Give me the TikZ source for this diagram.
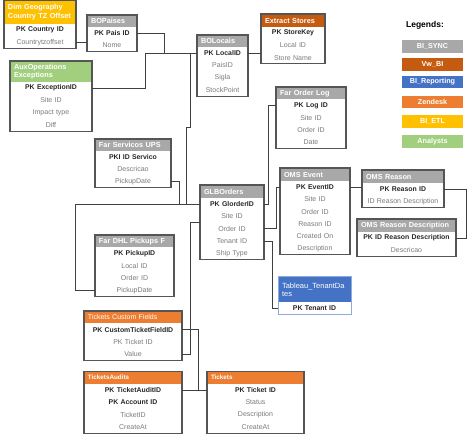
\documentclass[tikz,border=0pt]{standalone}
\usepackage{fontspec}
\setmainfont{Liberation Sans}
\usepackage{tikz}
\usetikzlibrary{positioning}

\definecolor{hdgrey}{HTML}{A8A8A8}
\definecolor{vwbi}{HTML}{C55A11}
\definecolor{bireport}{HTML}{4472C4}
\definecolor{zendesk}{HTML}{ED7D31}
\definecolor{etl}{HTML}{FFC000}
\definecolor{analysts}{HTML}{A2CF7E}
\definecolor{fldgrey}{HTML}{7A7A7A}
\definecolor{pkdark}{HTML}{262626}
\definecolor{boxline}{HTML}{555555}

\begin{document}
\begin{tikzpicture}[x=1pt, y=-1pt,
    head/.style 2 args={anchor=north west, text width=#1-8pt, inner xsep=4pt, inner ysep=1pt,
        minimum height=12.5pt, outer sep=0pt, fill=#2, text=white, align=left,
        font=\fontsize{7.3}{8.6}\selectfont\bfseries},
    fld/.style={text width=#1, inner xsep=0pt, inner ysep=0pt, minimum height=12.3pt,
        outer sep=0pt, align=center, text=fldgrey, font=\fontsize{7}{8}\selectfont},
    pk/.style={fld=#1, text=pkdark, font=\fontsize{6.9}{8}\selectfont\bfseries},
    tbl/.style={draw=boxline, line width=1.1pt},
    link/.style={draw=black!75, line width=0.75pt},
    legbox/.style={minimum width=61pt, minimum height=12.5pt, inner sep=0pt, fill=#1,
        text=white, font=\fontsize{7.2}{8}\selectfont\bfseries}
    ]
    \useasboundingbox (0,0) rectangle (467,435);

    % Dim Geography
    \node[head={72pt}{etl}, minimum height=24pt] (dim) at (4,0) {Dim Geography\\Country TZ Offset};
    \node[pk=72pt, below=0pt of dim] (dim-1) {PK Country ID};
    \node[fld=72pt, below=0pt of dim-1] (dim-2) {Countrytzoffset};
    \draw[tbl] (dim.north west) rectangle (dim-2.south east);

    % BOPaises
    \node[head={50pt}{hdgrey}, minimum height=12pt] (pais) at (87,15) {BOPaises};
    \node[pk=50pt, below=0pt of pais] (pais-1) {PK Pais ID};
    \node[fld=50pt, below=0pt of pais-1] (pais-2) {Nome};
    \draw[tbl] (pais.north west) rectangle (pais-2.south east);

    % AuxOperations Exceptions
    \node[head={82pt}{analysts}, minimum height=21pt] (aux) at (10,61) {AuxOperations\\Exceptions};
    \node[pk=82pt, below=0pt of aux] (aux-1) {PK ExceptionID};
    \node[fld=82pt, below=0pt of aux-1] (aux-2) {Site ID};
    \node[fld=82pt, below=0pt of aux-2] (aux-3) {Impact type};
    \node[fld=82pt, below=0pt of aux-3] (aux-4) {Diff};
    \draw[tbl] (aux.north west) rectangle (aux-4.south east);

    % BOLocais
    \node[head={51pt}{hdgrey}, minimum height=12pt] (locais) at (197,35) {BOLocais};
    \node[pk=51pt, below=0pt of locais] (locais-1) {PK LocalID};
    \node[fld=51pt, below=0pt of locais-1] (locais-2) {PaisID};
    \node[fld=51pt, below=0pt of locais-2] (locais-3) {Sigla};
    \node[fld=51pt, below=0pt of locais-3] (locais-4) {StockPoint};
    \draw[tbl] (locais.north west) rectangle (locais-4.south east);

    % Extract Stores
    \node[head={64pt}{vwbi}, minimum height=13pt] (stores) at (261,14) {Extract Stores};
    \node[pk=64pt, below=0pt of stores] (stores-1) {PK StoreKey};
    \node[fld=64pt, below=0pt of stores-1] (stores-2) {Local ID};
    \node[fld=64pt, below=0pt of stores-2] (stores-3) {Store Name};
    \draw[tbl] (stores.north west) rectangle (stores-3.south east);

    % Far Order Log
    \node[head={70pt}{hdgrey}] (orderlog) at (276,87) {Far Order Log};
    \node[pk=70pt, below=0pt of orderlog] (orderlog-1) {PK Log ID};
    \node[fld=70pt, below=0pt of orderlog-1] (orderlog-2) {Site ID};
    \node[fld=70pt, below=0pt of orderlog-2] (orderlog-3) {Order ID};
    \node[fld=70pt, below=0pt of orderlog-3] (orderlog-4) {Date};
    \draw[tbl] (orderlog.north west) rectangle (orderlog-4.south east);

    % Far Servicos UPS
    \node[head={76pt}{hdgrey}, minimum height=12pt] (ups) at (95,139) {Far Servicos UPS};
    \node[pk=76pt, below=0pt of ups] (ups-1) {PKI ID Servico};
    \node[fld=76pt, below=0pt of ups-1] (ups-2) {Descricao};
    \node[fld=76pt, below=0pt of ups-2] (ups-3) {PickupDate};
    \draw[tbl] (ups.north west) rectangle (ups-3.south east);

    % GLBOrders
    \node[head={64pt}{hdgrey}, minimum height=13pt] (glb) at (200,185) {GLBOrders};
    \node[pk=64pt, below=0pt of glb] (glb-1) {PK GlorderID};
    \node[fld=64pt, below=0pt of glb-1] (glb-2) {Site ID};
    \node[fld=64pt, below=0pt of glb-2] (glb-3) {Order ID};
    \node[fld=64pt, below=0pt of glb-3] (glb-4) {Tenant ID};
    \node[fld=64pt, below=0pt of glb-4] (glb-5) {Ship Type};
    \draw[tbl] (glb.north west) rectangle (glb-5.south east);

    % OMS Event
    \node[head={70pt}{hdgrey}, minimum height=13pt] (omsev) at (280,168) {OMS Event};
    \node[pk=70pt, below=0pt of omsev] (omsev-1) {PK EventID};
    \node[fld=70pt, below=0pt of omsev-1] (omsev-2) {Site ID};
    \node[fld=70pt, below=0pt of omsev-2] (omsev-3) {Order ID};
    \node[fld=70pt, below=0pt of omsev-3] (omsev-4) {Reason ID};
    \node[fld=70pt, below=0pt of omsev-4] (omsev-5) {Created On};
    \node[fld=70pt, below=0pt of omsev-5] (omsev-6) {Description};
    \draw[tbl] (omsev.north west) rectangle (omsev-6.south east);

    % OMS Reason
    \node[head={82pt}{hdgrey}, minimum height=13pt] (omsreason) at (362,170) {OMS Reason};
    \node[pk=82pt, below=0pt of omsreason] (omsreason-1) {PK Reason ID};
    \node[fld=82pt, below=0pt of omsreason-1] (omsreason-2) {ID Reason Description};
    \draw[tbl] (omsreason.north west) rectangle (omsreason-2.south east);

    % OMS Reason Description
    \node[head={99pt}{hdgrey}, minimum height=13pt] (omsrd) at (357,219) {OMS Reason Description};
    \node[pk=99pt, below=0pt of omsrd] (omsrd-1) {PK ID Reason Description};
    \node[fld=99pt, below=0pt of omsrd-1] (omsrd-2) {Descricao};
    \draw[tbl] (omsrd.north west) rectangle (omsrd-2.south east);

    % Tableau
    \node[head={73pt}{bireport}, minimum height=25pt, font=\fontsize{7.5}{8}\selectfont] (tableau) at (278,277) {Tableau\_TenantDa\\tes};
    \node[pk=73pt, below=0pt of tableau] (tableau-1) {PK Tenant ID};
    \draw[draw=bireport!60, line width=1pt] (tableau.north west) rectangle (tableau-1.south east);

    % Far DHL Pickups F
    \node[head={79pt}{hdgrey}] (dhl) at (95,235) {Far DHL Pickups F};
    \node[pk=79pt, below=0pt of dhl] (dhl-1) {PK PickupID};
    \node[fld=79pt, below=0pt of dhl-1] (dhl-2) {Local ID};
    \node[fld=79pt, below=0pt of dhl-2] (dhl-3) {Order ID};
    \node[fld=79pt, below=0pt of dhl-3] (dhl-4) {PickupDate};
    \draw[tbl] (dhl.north west) rectangle (dhl-4.south east);

    % Tickets Custom Fields
    \node[head={98pt}{zendesk}, font=\fontsize{7}{8}\selectfont] (tcf) at (84,311) {Tickets Custom Fields};
    \node[pk=98pt, below=0pt of tcf] (tcf-1) {PK CustomTicketFieldID};
    \node[fld=98pt, below=0pt of tcf-1] (tcf-2) {PK Ticket ID};
    \node[fld=98pt, below=0pt of tcf-2] (tcf-3) {Value};
    \draw[tbl] (tcf.north west) rectangle (tcf-3.south east);

    % TicketsAudits
    \node[head={98pt}{zendesk}, font=\fontsize{6.3}{8}\selectfont\bfseries] (audits) at (84,371.5) {TicketsAudits};
    \node[pk=98pt, below=0pt of audits] (audits-1) {PK TicketAuditID};
    \node[pk=98pt, below=0pt of audits-1] (audits-2) {PK Account ID};
    \node[fld=98pt, below=0pt of audits-2] (audits-3) {TicketID};
    \node[fld=98pt, below=0pt of audits-3] (audits-4) {CreateAt};
    \draw[tbl] (audits.north west) rectangle (audits-4.south east);

    % Tickets
    \node[head={97pt}{zendesk}, font=\fontsize{6.3}{8}\selectfont\bfseries] (tickets) at (207,371.5) {Tickets};
    \node[pk=97pt, below=0pt of tickets] (tickets-1) {PK Ticket ID};
    \node[fld=97pt, below=0pt of tickets-1] (tickets-2) {Status};
    \node[fld=97pt, below=0pt of tickets-2] (tickets-3) {Description};
    \node[fld=97pt, below=0pt of tickets-3] (tickets-4) {CreateAt};
    \draw[tbl] (tickets.north west) rectangle (tickets-4.south east);

    % Legenda
    \node[font=\fontsize{8.5}{10}\selectfont\bfseries] (legtitle) at (425,25.7) {Legends:};
    \node[legbox=hdgrey] (lg-sync) at (432.5,46.7) {BI\_SYNC};
    \node[legbox=vwbi] (lg-vwbi) at (432.5,64.5) {Vw\_BI};
    \node[legbox=bireport] (lg-report) at (432.5,82) {BI\_Reporting};
    \node[legbox=zendesk] (lg-zendesk) at (432.5,102) {Zendesk};
    \node[legbox=etl] (lg-etl) at (432.5,121.3) {BI\_ETL};
    \node[legbox=analysts] (lg-analysts) at (432.5,141.3) {Analysts};

    % ligacoes
    \draw[link] (dim-2.east) -- (dim-2.east -| pais-2.west);
    \draw[link] (pais-1.east) -- ++(27,0) |- (locais-1.west);
    \draw[link] (aux-1.east) -- ++(53,0) |- (locais-1.west);
    \draw[link] (locais-1.east) -- (locais-1.east -| stores-3.west);
    \draw[link] (locais-1.west) ++(-7,0) -- ++(0,74) -- ++(-4,0) |- (glb-1.west);
    \draw[link] (ups-3.east) -- ++(8,0) |- (glb-1.west);
    \draw[link] (dhl-4.west) -- ++(-20,0) |- (glb-1.west);
    \draw[link] (tcf-3.east) -- ++(8,0) |- (glb-2.south west);
    \draw[link] (glb-1.east) -- ++(4,0) |- (orderlog-1.west);
    \draw[link] (glb-3.east) -- ++(12,0) |- (omsev-1.west);
    \draw[link] (glb-4.east) -- ++(8,0) |- (tableau-1.west);
    \draw[link] (omsev-1.east) -- (omsev-1.east -| omsreason-1.west);
    \draw[link] (omsreason-1.east) -- ++(22,0) |- (omsrd-1.east);
    \draw[link] (tcf-1.east) -- ++(16,0) coordinate (tj) -- (tj |- audits-1.east);
    \draw[link] (audits-1.east) -- (tickets-1.west);

\end{tikzpicture}
\end{document}
